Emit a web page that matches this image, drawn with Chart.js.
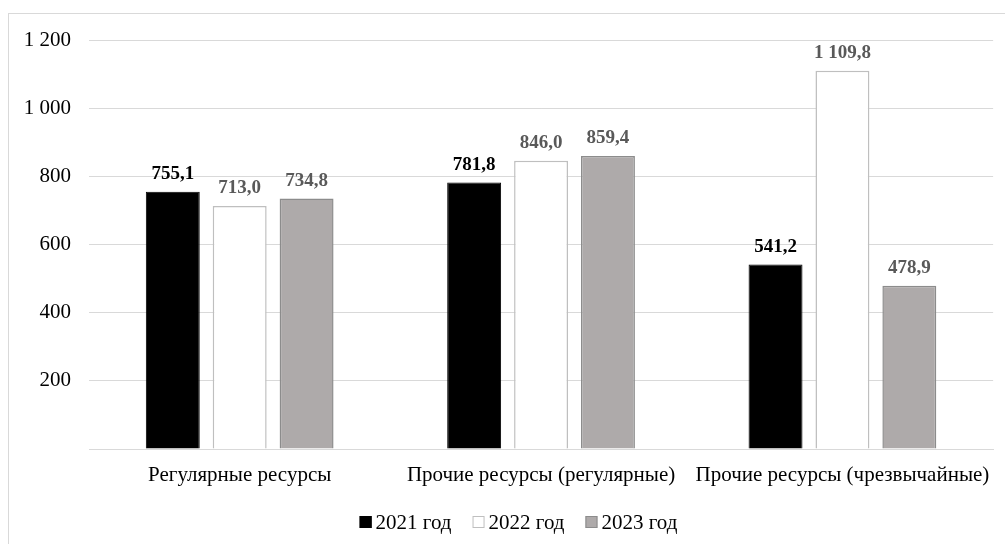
<!DOCTYPE html>
<html><head><meta charset="utf-8">
<script src="https://cdn.jsdelivr.net/npm/chart.js@4"></script>
<style>
html,body{margin:0;padding:0;background:#fff;overflow:hidden}
#wrap{position:relative;width:1005px;height:544px}
#frame{position:absolute;left:8px;top:13px;width:1010px;height:550px;border:1px solid #d9d9d9;box-sizing:border-box;pointer-events:none}
canvas{position:absolute;left:0;top:0}
</style></head>
<body><div id="wrap"><canvas id="c" width="1005" height="544"></canvas><div id="frame"></div></div>
<script>
const categories = ['Регулярные ресурсы', 'Прочие ресурсы (регулярные)', 'Прочие ресурсы (чрезвычайные)'];
const seriesNames = ['2021 год', '2022 год', '2023 год'];
const values2021 = [755.1, 781.8, 541.2];
const values2022 = [713.0, 846.0, 1109.8];
const values2023 = [734.8, 859.4, 478.9];
const yTicks = [0, 200, 400, 600, 800, 1000, 1200];

const fills = ['#000000', '#ffffff', '#aeaaaa'];
const borders = ['#000000', '#bfbfbf', '#8c8c8c'];
const labelColors = ['#000000', '#595959', '#595959'];
const FONT = '"Liberation Serif", "Times New Roman", serif';

function fmt(v, dec) {
  let s = dec ? v.toFixed(1) : Math.round(v).toString();
  let [i, d] = s.split('.');
  i = i.replace(/\B(?=(\d{3})+(?!\d))/g, ' ');
  return d !== undefined ? i + ',' + d : i;
}

const valueLabels = {
  id: 'valueLabels',
  afterDatasetsDraw(chart) {
    const ctx = chart.ctx;
    ctx.save();
    ctx.font = 'bold 19px ' + FONT;
    ctx.textAlign = 'center';
    ctx.textBaseline = 'alphabetic';
    chart.data.datasets.forEach((ds, di) => {
      const meta = chart.getDatasetMeta(di);
      ctx.fillStyle = labelColors[di];
      meta.data.forEach((bar, i) => {
        ctx.fillText(fmt(ds.data[i], true), bar.x, bar.y - 13);
      });
    });
    ctx.restore();
  }
};

const customLegend = {
  id: 'customLegend',
  afterDraw(chart) {
    const ctx = chart.ctx;
    ctx.save();
    ctx.font = '21px ' + FONT;
    ctx.textBaseline = 'middle';
    const box = 12, gapText = 4, gapItem = 21;
    const widths = seriesNames.map(n => box + gapText + ctx.measureText(n).width);
    const total = widths.reduce((a, b) => a + b, 0) + gapItem * (seriesNames.length - 1);
    let x = (chart.width - total) / 2 + 16;
    const cy = 522;
    seriesNames.forEach((n, i) => {
      ctx.fillStyle = fills[i];
      ctx.fillRect(x, cy - box / 2, box, box);
      ctx.strokeStyle = borders[i];
      ctx.lineWidth = 1;
      ctx.strokeRect(x + 0.5, cy - box / 2 + 0.5, box - 1, box - 1);
      ctx.fillStyle = '#000';
      ctx.textAlign = 'left';
      ctx.fillText(n, x + box + gapText, cy + 1);
      x += widths[i] + gapItem;
    });
    ctx.restore();
  }
};

new Chart(document.getElementById('c'), {
  type: 'bar',
  data: {
    labels: categories,
    datasets: [
      { label: seriesNames[0], data: values2021, backgroundColor: fills[0], borderColor: borders[0], borderWidth: 1 },
      { label: seriesNames[1], data: values2022, backgroundColor: fills[1], borderColor: borders[1], borderWidth: 1.5 },
      { label: seriesNames[2], data: values2023, backgroundColor: fills[2], borderColor: borders[2], borderWidth: 1.5 }
    ]
  },
  options: {
    responsive: false,
    animation: false,
    devicePixelRatio: 1,
    layout: { padding: { left: 0, right: 10, top: 40, bottom: 45 } },
    datasets: { bar: { categoryPercentage: 0.666, barPercentage: 0.806 } },
    plugins: { legend: { display: false }, tooltip: { enabled: false } },
    scales: {
      x: {
        grid: { display: false, drawTicks: false },
        border: { display: true, color: '#d9d9d9', width: 1 },
        ticks: { color: '#000', font: { family: FONT, size: 21 }, padding: 14, maxRotation: 0 },
        afterFit(s) { s.height = 50; }
      },
      y: {
        min: 0, max: 1200,
        afterBuildTicks(s) { s.ticks = yTicks.map(v => ({ value: v })); },
        grid: { color: '#d9d9d9', lineWidth: 1, drawTicks: false },
        border: { display: false },
        ticks: {
          color: '#000', font: { family: FONT, size: 21 }, padding: 18,
          callback: v => v === 0 ? '' : fmt(v, false)
        },
        afterFit(s) { s.width = 89; }
      }
    }
  },
  plugins: [valueLabels, customLegend]
});
</script>
</body></html>
